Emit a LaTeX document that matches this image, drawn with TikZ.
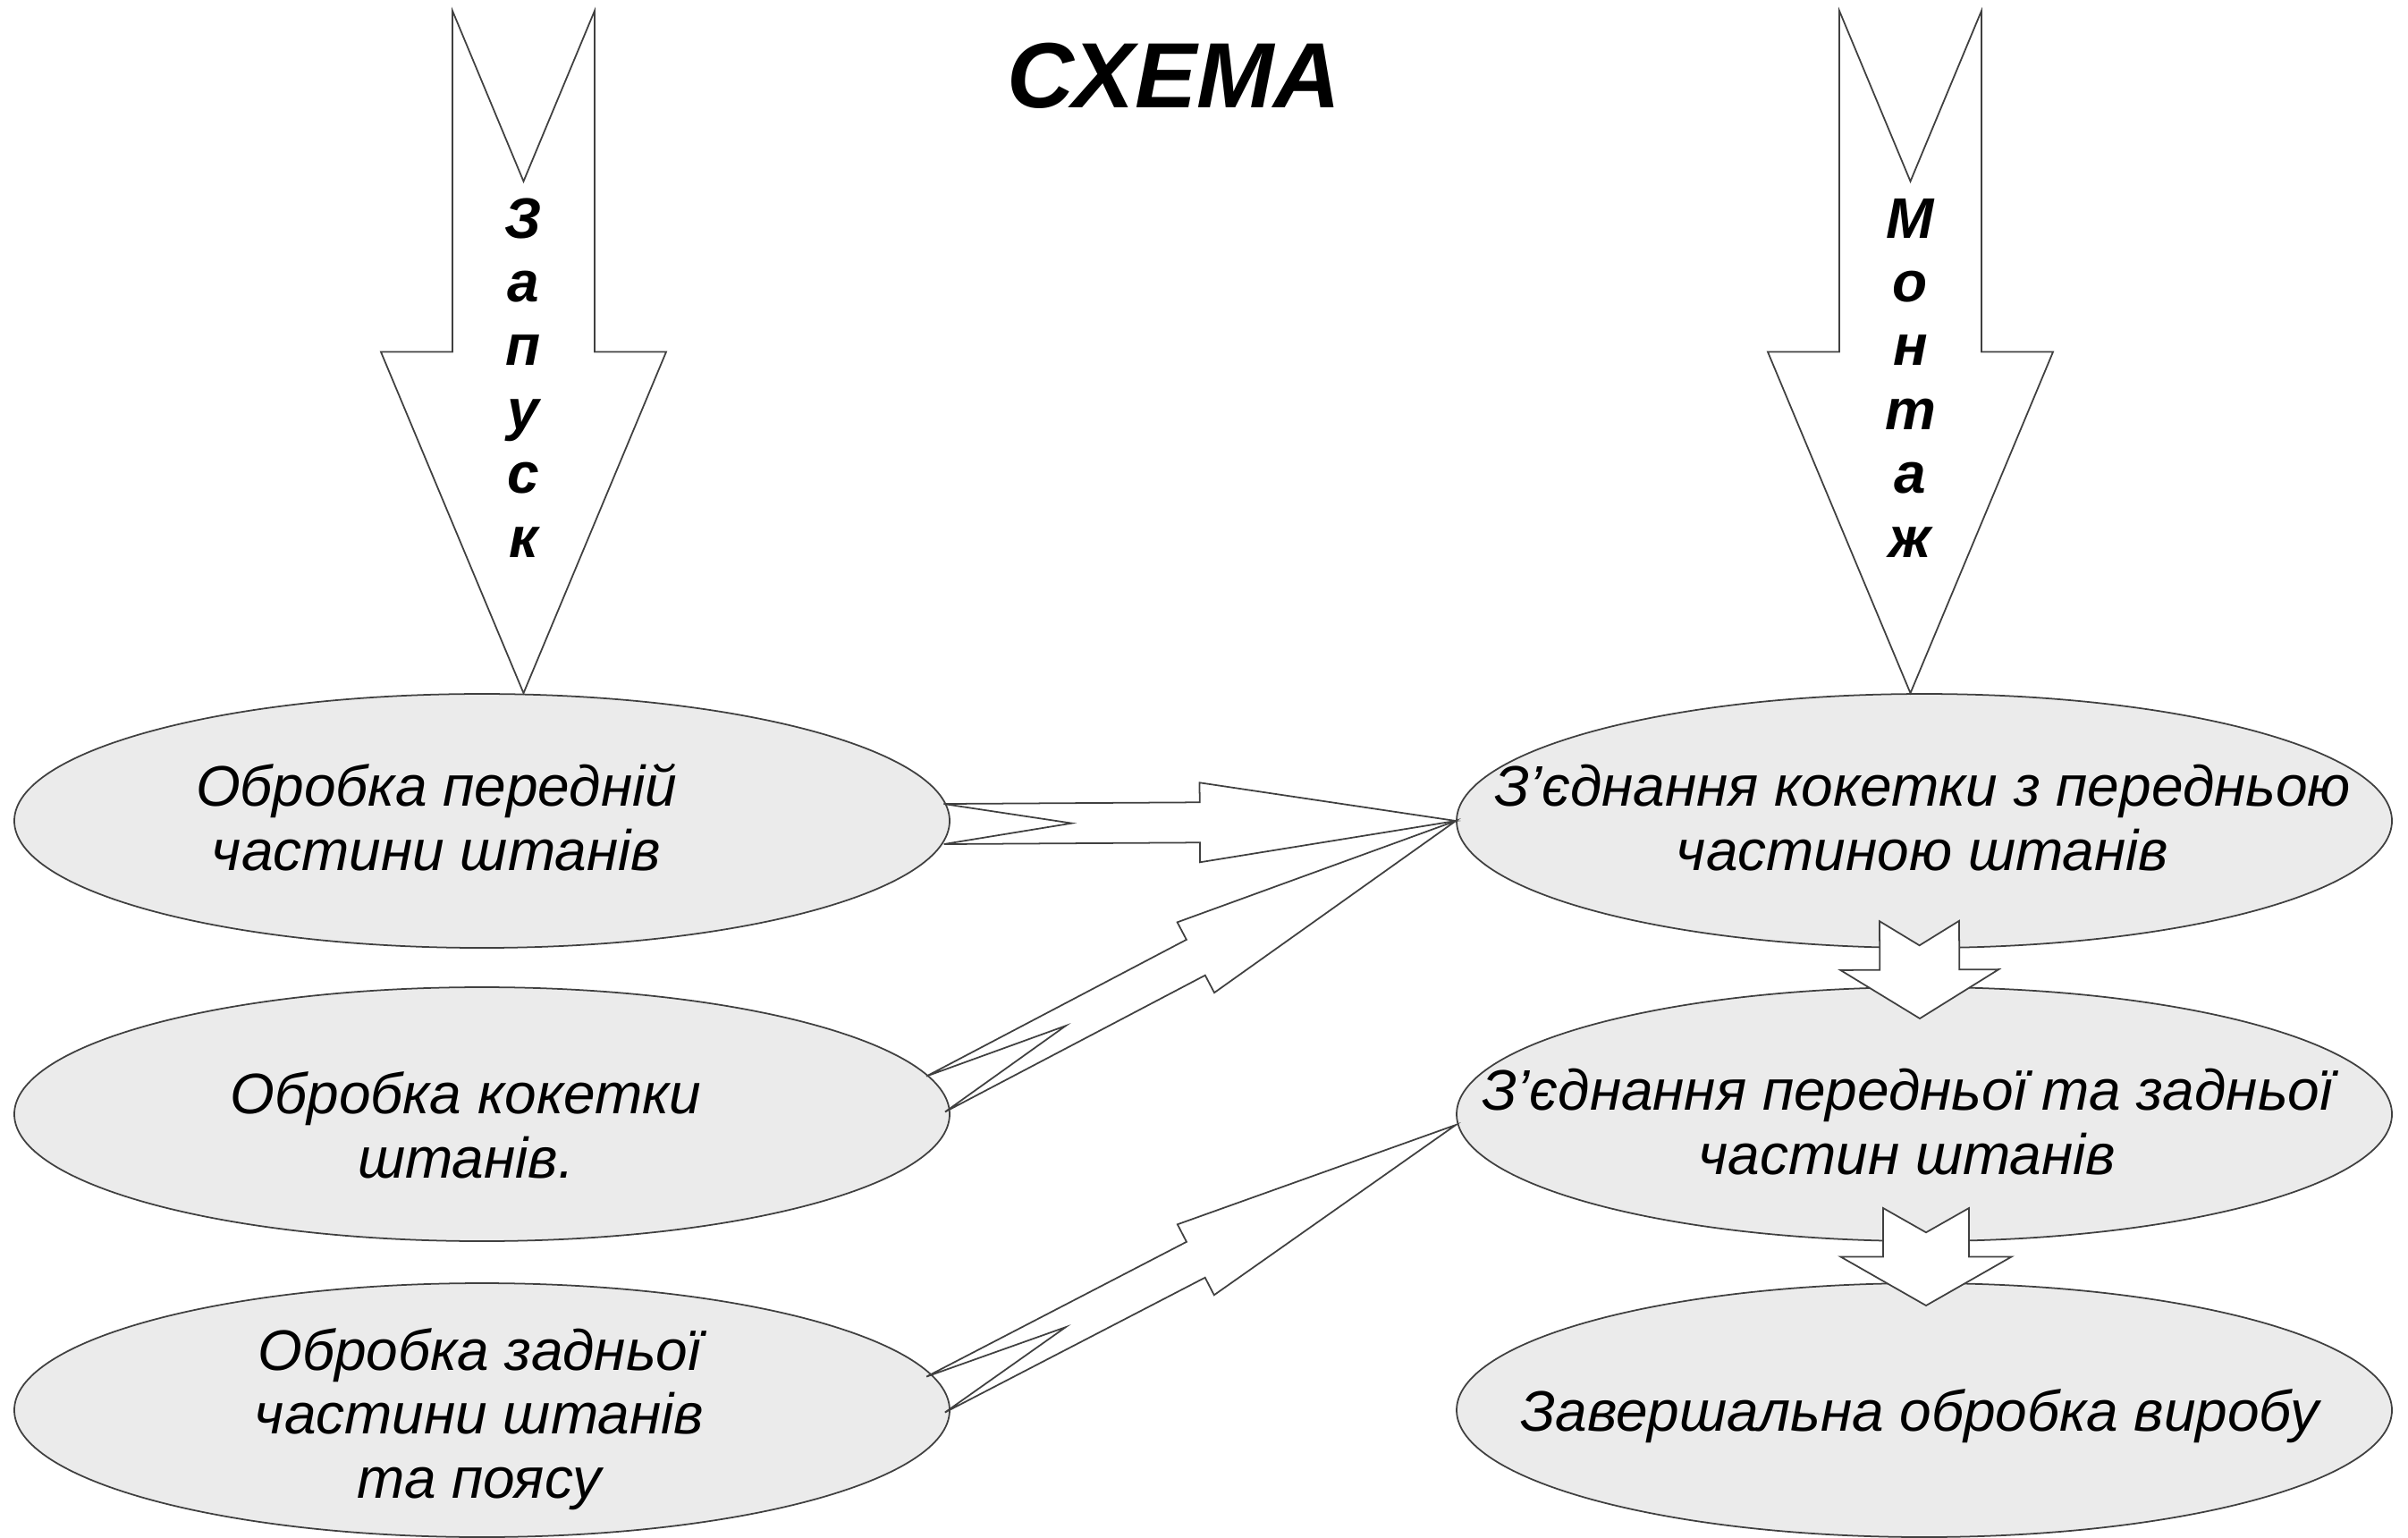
\documentclass[tikz,border=0pt]{standalone}
\usepackage{fontspec}
\setmainfont{Liberation Sans}
\usetikzlibrary{shapes.geometric,calc}

\tikzset{
  stage/.style={ellipse, draw=black!75, fill=black!8, line width=0.5pt,
    minimum width=10.46cm, minimum height=2.84cm, inner sep=0pt},
  stagetext/.style={align=center, anchor=base,
    font=\itshape\fontsize{18.2}{20.3}\selectfont},
  letter/.style={anchor=base, font=\bfseries\itshape\fontsize{18.2}{20}\selectfont},
  hollow/.style={draw=black!75, fill=white, line width=0.5pt, line join=miter}
}

% tail, tip, half width of shaft, half width of head
\newcommand{\blockarrow}[4]{%
  \draw[hollow]
    ($(#1)!#3!90:(#2)$) -- ($(#1)!0.25!(#2)$) -- ($(#1)!#3!-90:(#2)$)
    -- ($($(#1)!0.5!(#2)$)!#3!-90:(#2)$) -- ($($(#1)!0.5!(#2)$)!#4!-90:(#2)$)
    -- (#2)
    -- ($($(#1)!0.5!(#2)$)!#4!90:(#2)$) -- ($($(#1)!0.5!(#2)$)!#3!90:(#2)$)
    -- cycle;}

\begin{document}
\begin{tikzpicture}
            \useasboundingbox (0,0) rectangle (26.93,-17.19);

            \node[stage] (e1) at (5.39,-9.18) {};
            \node[stage] (e2) at (5.39,-12.46) {};
            \node[stage] (e3) at (5.39,-15.77) {};
            \node[stage] (r1) at (21.52,-9.18) {};
            \node[stage] (r2) at (21.52,-12.46) {};
            \node[stage] (r3) at (21.52,-15.77) {};

            \coordinate (s1) at (5.855,-0.12);
            \coordinate (s2) at (21.365,-0.12);
            \coordinate (ta) at (10.555,-9.215);
            \coordinate (tb) at (10.465,-12.235);
            \coordinate (tc) at (10.465,-15.595);
            \coordinate (j1) at (21.465,-10.30); \coordinate (k1) at (21.47,-11.39);
            \coordinate (j2) at (21.54,-13.51); \coordinate (k2) at (21.54,-14.60);

            \blockarrow{s1}{s1 |- e1.north}{0.795cm}{1.595cm}
            \blockarrow{s2}{s2 |- r1.north}{0.795cm}{1.595cm}
            \blockarrow{ta}{r1.west}{0.225cm}{0.445cm}
            \blockarrow{tb}{r1.west}{0.225cm}{0.445cm}
            \blockarrow{tc}{$(r2.west)+(0,-0.12)$}{0.225cm}{0.445cm}
            \blockarrow{j1}{k1}{0.445cm}{0.885cm}
            \blockarrow{j2}{k2}{0.48cm}{0.955cm}

            \node[anchor=base, font=\bfseries\itshape\fontsize{29.5}{35}\selectfont] (title) at (13.13,-1.20) {СХЕМА};

            \foreach \ch [count=\i] in {З,а,п,у,с,к}
              \node[letter] (z\i) at (5.855,{-2.66-0.714*(\i-1)}) {\ch};
            \foreach \ch [count=\i] in {М,о,н,т,а,ж}
              \node[letter] (m\i) at (21.365,{-2.66-0.714*(\i-1)}) {\ch};

            % base of a text node is the base of its last line
            \node[stagetext] (t1) at (4.88,-9.73) {Обробка передній\\частини штанів};
            \node[stagetext] (t2) at (5.21,-13.17) {Обробка кокетки\\штанів.};
            \node[stagetext] (t3) at (5.36,-16.75) {Обробка задньої\\частини штанів\\та поясу};
            \node[stagetext] (u1) at (21.50,-9.73) {З’єднання кокетки з передньою\\частиною штанів};
            \node[stagetext] (u2) at (21.33,-13.13) {З’єднання передньої та задньої\\частин штанів};
            \node[stagetext] (u3) at (21.47,-16.00) {Завершальна обробка виробу};
        \end{tikzpicture}
\end{document}
